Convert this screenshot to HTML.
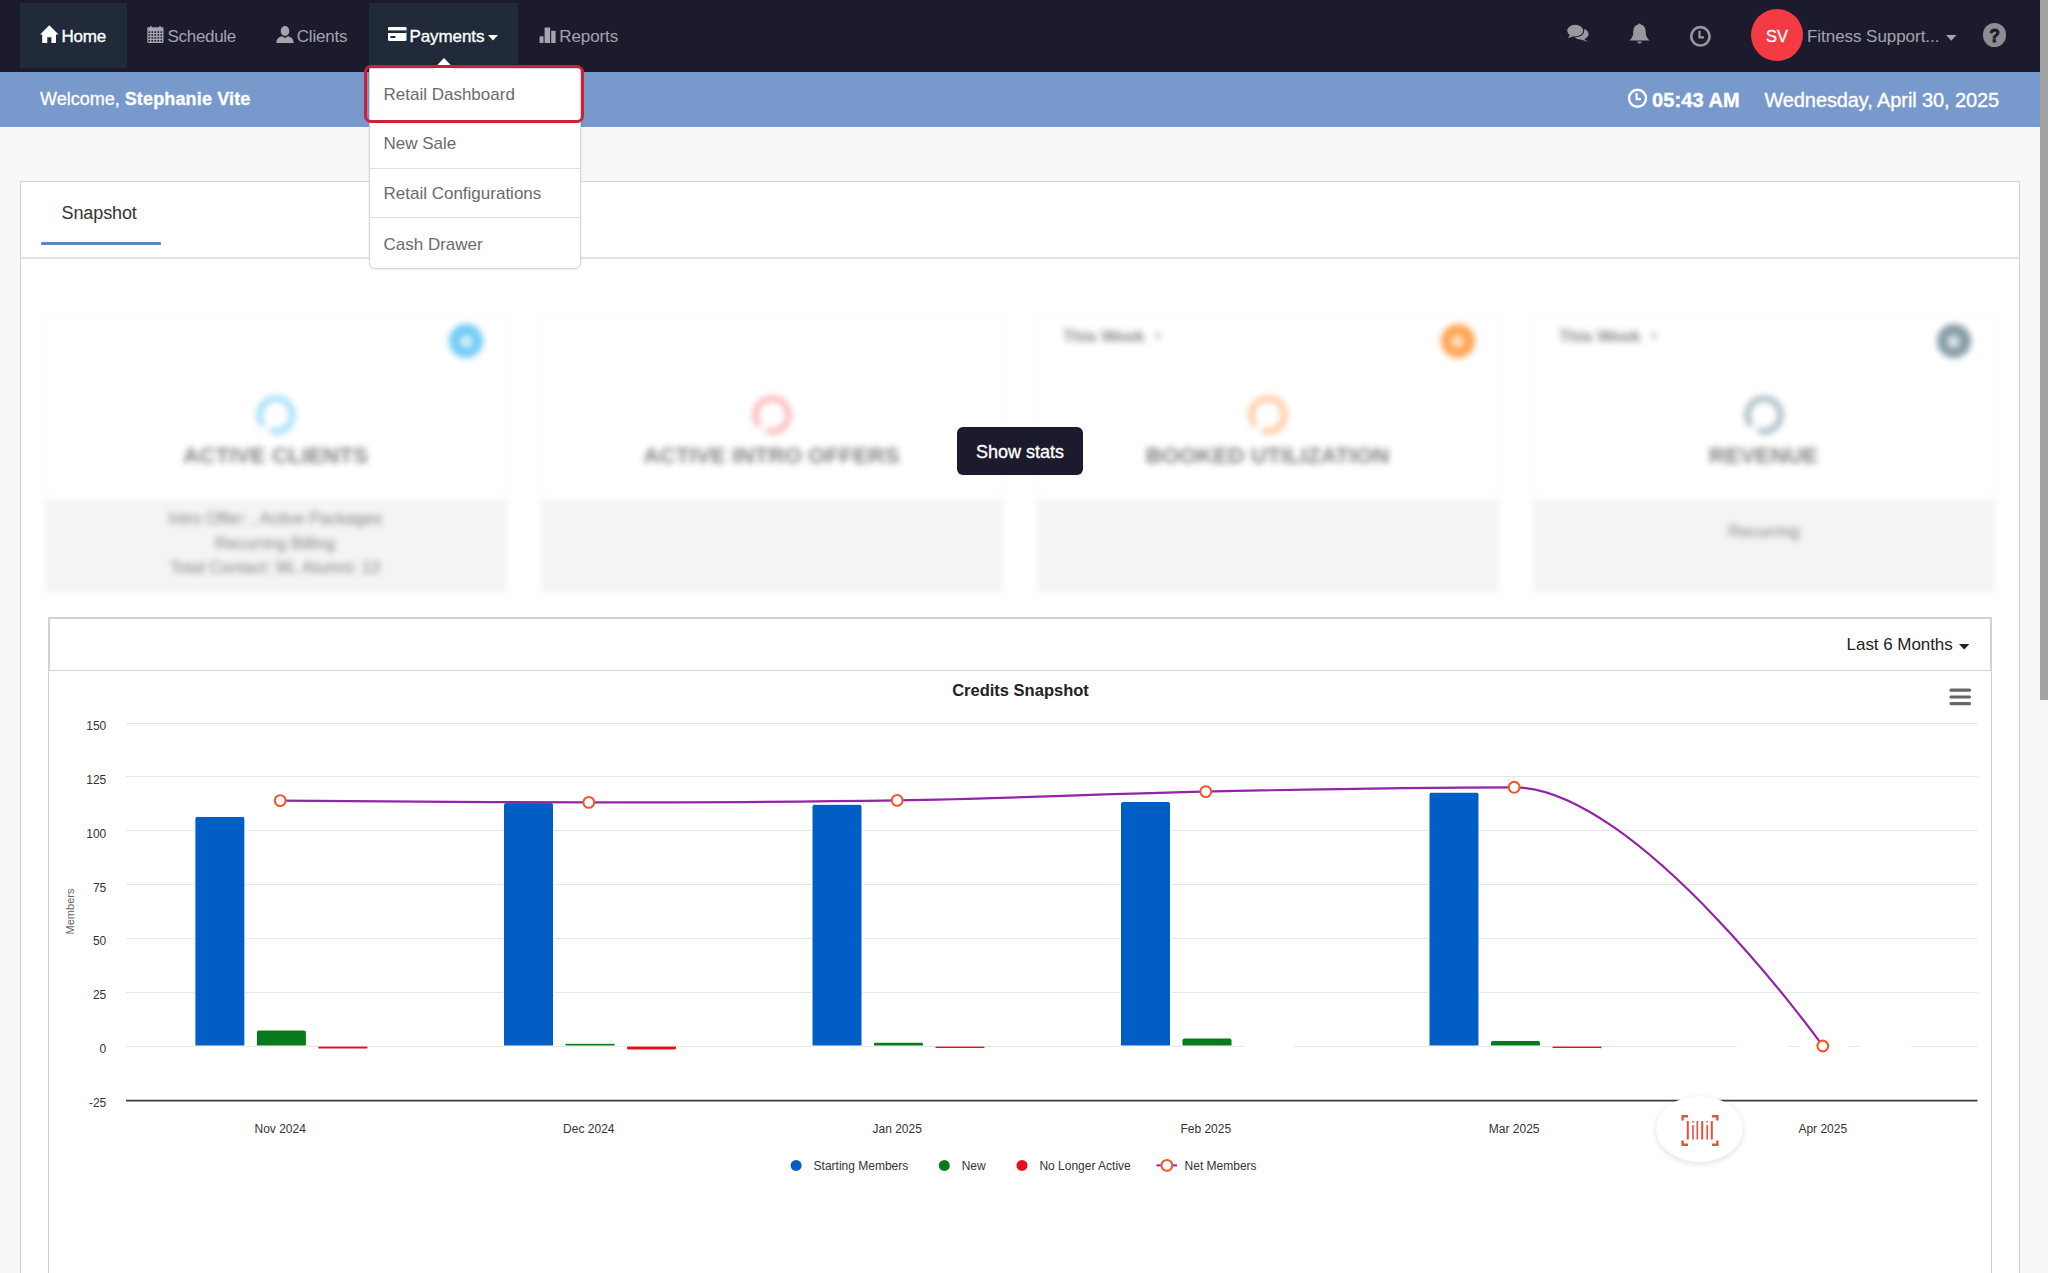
<!DOCTYPE html>
<html lang="en"><head><meta charset="utf-8"><title>Dashboard</title>
<style>
*{box-sizing:border-box;margin:0;padding:0}
html,body{width:2048px;height:1273px;overflow:hidden;background:#f7f7f7;font-family:"Liberation Sans", Arial, sans-serif;position:relative}
.a{position:absolute}
.t{white-space:nowrap}
#nav{left:0;top:0;width:2040px;height:72px;background:#1b1b2d}
.tab{top:3px;height:65px;background:#202a38}
#welcome{left:0;top:72px;width:2040px;height:55px;background:#7799cc}
#scroll{left:2040px;top:0;width:8px;height:700px;background:#a3a3a3}
#main{left:20px;top:181px;width:2000px;height:1200px;background:#fff;border:1px solid #d2d2d2}
#tabsep{left:21px;top:257px;width:1998px;height:2px;background:#e3e3e3}
#dd{left:369px;top:68px;width:212px;height:201px;background:#fff;border:1px solid #d6d6d6;border-radius:0 0 6px 6px;box-shadow:0 1px 3px rgba(0,0,0,.08)}
.dsep{left:370px;width:210px;height:1px;background:#dedede}
#cards{left:0;top:0;width:2048px;height:640px;filter:blur(3px)}
.card{width:460px;height:277px;top:314.5px;background:#fff;box-shadow:0 0 4px rgba(0,0,0,.06)}
.cardb{width:460px;height:92.5px;top:499px;background:#f4f4f4}
#chartbox{left:48px;top:617px;width:1944px;height:700px;background:#fff;border:1px solid #cfcfcf}
#charthead{left:48px;top:617px;width:1944px;height:54px;border:2px solid #d2d2d2;border-bottom:1px solid #d6d6d6}
#barcode{left:1656px;top:1096px;width:87px;height:66px;border-radius:50%;background:#fff;box-shadow:0 2px 6px rgba(0,0,0,.12)}
</style></head><body>
<div id="nav" class="a"></div>
<div class="a tab" style="left:20px;width:107px"></div>
<div class="a tab" style="left:369px;width:149px"></div>
<svg class="a" style="left:40px;top:25px" width="19" height="18" viewBox="0 0 19 18"><path d="M9.3 0.2 L18.6 9.6 L16 9.6 L16 17.9 L11.4 17.9 L11.4 12.3 L7.3 12.3 L7.3 17.9 L2.2 17.9 L2.2 9.6 L0 9.6 Z" fill="#fff"/></svg>
<div class="a t" style="left:61.5px;top:27.5px;font-size:17px;line-height:17px;color:#fff;font-weight:normal;letter-spacing:-0.25px;-webkit-text-stroke:0.35px #fff;">Home</div>
<svg class="a" style="left:146.5px;top:26px" width="17" height="17" viewBox="0 0 17 17"><rect x="3" y="0" width="1.6" height="3" fill="#a3a4ad"/><rect x="12.2" y="0" width="1.6" height="3" fill="#a3a4ad"/><rect x="0.3" y="1.3" width="16.2" height="15.6" rx="0.8" fill="#a3a4ad"/><rect x="1.5" y="5.3" width="1.6" height="1.6" fill="#1b1b2d"/><rect x="4.5" y="5.3" width="1.6" height="1.6" fill="#1b1b2d"/><rect x="7.5" y="5.3" width="1.6" height="1.6" fill="#1b1b2d"/><rect x="10.5" y="5.3" width="1.6" height="1.6" fill="#1b1b2d"/><rect x="13.5" y="5.3" width="1.6" height="1.6" fill="#1b1b2d"/><rect x="1.5" y="8.2" width="1.6" height="1.6" fill="#1b1b2d"/><rect x="4.5" y="8.2" width="1.6" height="1.6" fill="#1b1b2d"/><rect x="7.5" y="8.2" width="1.6" height="1.6" fill="#1b1b2d"/><rect x="10.5" y="8.2" width="1.6" height="1.6" fill="#1b1b2d"/><rect x="13.5" y="8.2" width="1.6" height="1.6" fill="#1b1b2d"/><rect x="1.5" y="11.1" width="1.6" height="1.6" fill="#1b1b2d"/><rect x="4.5" y="11.1" width="1.6" height="1.6" fill="#1b1b2d"/><rect x="7.5" y="11.1" width="1.6" height="1.6" fill="#1b1b2d"/><rect x="10.5" y="11.1" width="1.6" height="1.6" fill="#1b1b2d"/><rect x="13.5" y="11.1" width="1.6" height="1.6" fill="#1b1b2d"/><rect x="1.5" y="14.0" width="1.6" height="1.6" fill="#1b1b2d"/><rect x="4.5" y="14.0" width="1.6" height="1.6" fill="#1b1b2d"/><rect x="7.5" y="14.0" width="1.6" height="1.6" fill="#1b1b2d"/><rect x="10.5" y="14.0" width="1.6" height="1.6" fill="#1b1b2d"/><rect x="13.5" y="14.0" width="1.6" height="1.6" fill="#1b1b2d"/></svg>
<div class="a t" style="left:167.5px;top:27.5px;font-size:17px;line-height:17px;color:#a3a4ad;font-weight:normal;letter-spacing:-0.3px;">Schedule</div>
<svg class="a" style="left:276px;top:26px" width="18" height="17" viewBox="0 0 18 17"><ellipse cx="9" cy="5" rx="4.3" ry="5" fill="#a3a4ad"/><path d="M0.3 17 C0.6 12.5 3 10.8 6 10.2 L9 12 L12 10.2 C15 10.8 17.4 12.5 17.7 17 Z" fill="#a3a4ad"/></svg>
<div class="a t" style="left:296.8px;top:27.5px;font-size:17px;line-height:17px;color:#a3a4ad;font-weight:normal;letter-spacing:-0.2px;">Clients</div>
<svg class="a" style="left:387.5px;top:26.5px" width="19" height="14" viewBox="0 0 19 14"><rect x="0" y="0" width="18.5" height="14" rx="1.2" fill="#fff"/><rect x="0" y="3.4" width="18.5" height="2.6" fill="#202a38"/><rect x="2.4" y="9" width="5" height="2" fill="#202a38"/></svg>
<div class="a t" style="left:409.5px;top:27.5px;font-size:17px;line-height:17px;color:#fff;font-weight:normal;letter-spacing:-0.1px;-webkit-text-stroke:0.35px #fff;">Payments</div>
<svg class="a" style="left:488px;top:35px" width="10" height="6" viewBox="0 0 10 6"><path d="M0 0 H10 L5 5.6 Z" fill="#fff"/></svg>
<svg class="a" style="left:539px;top:27px" width="17" height="16" viewBox="0 0 17 16"><rect x="0.6" y="9.3" width="3.9" height="6.7" fill="#a3a4ad"/><rect x="5.6" y="0.5" width="5.5" height="15.5" fill="#a3a4ad"/><rect x="12.2" y="3.8" width="4.4" height="12.2" fill="#a3a4ad"/></svg>
<div class="a t" style="left:559.3px;top:27.5px;font-size:17px;line-height:17px;color:#a3a4ad;font-weight:normal;letter-spacing:-0.1px;">Reports</div>
<svg class="a" style="left:1566px;top:24px" width="24" height="19" viewBox="0 0 24 19"><ellipse cx="15" cy="10" rx="7.6" ry="5.6" fill="#9798a1"/><path d="M17 14 L22 18 L14 15 Z" fill="#9798a1"/><ellipse cx="9.6" cy="7" rx="8.6" ry="6.2" fill="#1b1b2d"/><ellipse cx="9.2" cy="6.6" rx="8" ry="5.8" fill="#9798a1"/><path d="M4 10.5 L2 14.3 L8 12 Z" fill="#9798a1"/></svg>
<svg class="a" style="left:1628.5px;top:23px" width="21" height="22" viewBox="0 0 21 22"><circle cx="10.5" cy="1.8" r="1.4" fill="#9798a1"/><path d="M10.5 1.5 C6 1.5 4.3 5 4.3 9 C4.3 13 3 15 0.5 17.5 L20.5 17.5 C18 15 16.7 13 16.7 9 C16.7 5 15 1.5 10.5 1.5 Z" fill="#9798a1"/><path d="M8 18.5 A2.6 2.6 0 0 0 13 18.5 Z" fill="#9798a1"/></svg>
<svg class="a" style="left:1689px;top:24.5px" width="23" height="23" viewBox="0 0 23 23"><circle cx="11.4" cy="11.3" r="9.2" fill="none" stroke="#9798a1" stroke-width="2.6"/><path d="M10.5 5.8 V12.4 H15" fill="none" stroke="#9798a1" stroke-width="2.2"/></svg>
<div class="a" style="left:1751px;top:9px;width:52px;height:52px;border-radius:50%;background:#f23b43"></div>
<div class="a t" style="left:1751.0px;width:52px;text-align:center;top:27.6px;font-size:16.5px;line-height:16.5px;color:#fff;font-weight:normal;-webkit-text-stroke:0.3px #fff;">SV</div>
<div class="a t" style="left:1807px;top:27.5px;font-size:17px;line-height:17px;color:#a3a4ad;font-weight:normal;letter-spacing:-0.05px;">Fitness Support...</div>
<svg class="a" style="left:1946px;top:34.5px" width="11" height="6" viewBox="0 0 11 6"><path d="M0 0 H10.5 L5.25 5.8 Z" fill="#a3a4ad"/></svg>
<div class="a" style="left:1983px;top:23.4px;width:23.4px;height:23.4px;border-radius:50%;background:#8b8c94"></div>
<div class="a t" style="left:1982.7px;width:24px;text-align:center;top:27.7px;font-size:17.5px;line-height:17.5px;color:#1b1b2d;font-weight:bold;-webkit-text-stroke:0.8px #1b1b2d;">?</div>
<div id="welcome" class="a"></div>
<div class="a t" style="left:40px;top:90.3px;font-size:18px;line-height:18px;color:#fff;-webkit-text-stroke:0.3px #fff">Welcome, <b style="letter-spacing:0.15px">Stephanie Vite</b></div>
<svg class="a" style="left:1627px;top:88px" width="21" height="21" viewBox="0 0 21 21"><circle cx="10.5" cy="10.3" r="8.5" fill="none" stroke="#fff" stroke-width="2.4"/><path d="M9.6 5 V11.2 H14" fill="none" stroke="#fff" stroke-width="2.2"/></svg>
<div class="a t" style="left:1652px;top:90.1px;font-size:20px;line-height:20px;color:#fff;font-weight:bold;letter-spacing:0.1px;-webkit-text-stroke:0.4px #fff;">05:43 AM</div>
<div class="a t" style="left:1764.4px;top:90.1px;font-size:20px;line-height:20px;color:#fff;font-weight:normal;letter-spacing:-0.1px;-webkit-text-stroke:0.35px #fff;">Wednesday, April 30, 2025</div>
<div id="main" class="a"></div>
<div id="tabsep" class="a"></div>
<div class="a t" style="left:61.5px;top:204.4px;font-size:18px;line-height:18px;color:#333;font-weight:normal;letter-spacing:-0.1px;">Snapshot</div>
<div class="a" style="left:41px;top:241.5px;width:120px;height:3px;background:#5a86c6;border-radius:1px"></div>
<div id="cards" class="a"><div class="a card" style="left:46px"></div><div class="a cardb" style="left:46px"></div><svg class="a" style="left:253.5px;top:393px" width="44" height="44" viewBox="0 0 44 44"><circle cx="22" cy="22" r="16.5" fill="none" stroke="#a3def8" stroke-width="6" stroke-dasharray="94.7 9" transform="rotate(140 22 22)"/></svg><div class="a t" style="left:55.5px;width:440px;text-align:center;top:445.0px;font-size:22.5px;line-height:22.5px;color:#808080;font-weight:bold;letter-spacing:0px;">ACTIVE CLIENTS</div><div class="a card" style="left:542px"></div><div class="a cardb" style="left:542px"></div><svg class="a" style="left:749.5px;top:393px" width="44" height="44" viewBox="0 0 44 44"><circle cx="22" cy="22" r="16.5" fill="none" stroke="#ffb6bb" stroke-width="6" stroke-dasharray="94.7 9" transform="rotate(140 22 22)"/></svg><div class="a t" style="left:551.5px;width:440px;text-align:center;top:445.0px;font-size:22.5px;line-height:22.5px;color:#808080;font-weight:bold;letter-spacing:0px;">ACTIVE INTRO OFFERS</div><div class="a card" style="left:1038px"></div><div class="a cardb" style="left:1038px"></div><svg class="a" style="left:1245.5px;top:393px" width="44" height="44" viewBox="0 0 44 44"><circle cx="22" cy="22" r="16.5" fill="none" stroke="#ffc89e" stroke-width="6" stroke-dasharray="94.7 9" transform="rotate(140 22 22)"/></svg><div class="a t" style="left:1047.5px;width:440px;text-align:center;top:445.0px;font-size:22.5px;line-height:22.5px;color:#808080;font-weight:bold;letter-spacing:0px;">BOOKED UTILIZATION</div><div class="a card" style="left:1534px"></div><div class="a cardb" style="left:1534px"></div><svg class="a" style="left:1741.5px;top:393px" width="44" height="44" viewBox="0 0 44 44"><circle cx="22" cy="22" r="16.5" fill="none" stroke="#abbcc4" stroke-width="6" stroke-dasharray="94.7 9" transform="rotate(140 22 22)"/></svg><div class="a t" style="left:1543.5px;width:440px;text-align:center;top:445.0px;font-size:22.5px;line-height:22.5px;color:#808080;font-weight:bold;letter-spacing:0px;">REVENUE</div><div class="a" style="left:449px;top:324px;width:34px;height:34px;border-radius:50%;background:#72cbf4"></div><div class="a" style="left:459.5px;top:334.5px;width:13px;height:13px;border-radius:50%;background:#d2f1fd"></div><div class="a" style="left:1440.5px;top:324px;width:34px;height:34px;border-radius:50%;background:#ffa552"></div><div class="a" style="left:1451.0px;top:334.5px;width:13px;height:13px;border-radius:50%;background:#ffe0c0"></div><div class="a" style="left:1936.5px;top:324px;width:34px;height:34px;border-radius:50%;background:#869ca7"></div><div class="a" style="left:1947.0px;top:334.5px;width:13px;height:13px;border-radius:50%;background:#dce5e9"></div><div class="a t" style="left:1063px;top:327.6px;font-size:17px;line-height:17px;color:#888;font-weight:bold;letter-spacing:-0.3px;">This Week</div><div class="a" style="left:1154px;top:334px;width:0;height:0;border-left:4px solid transparent;border-right:4px solid transparent;border-top:5px solid #aaa"></div><div class="a t" style="left:1559px;top:327.6px;font-size:17px;line-height:17px;color:#888;font-weight:bold;letter-spacing:-0.3px;">This Week</div><div class="a" style="left:1650px;top:334px;width:0;height:0;border-left:4px solid transparent;border-right:4px solid transparent;border-top:5px solid #aaa"></div><div class="a t" style="left:65.0px;width:420px;text-align:center;top:510.0px;font-size:16.5px;line-height:16.5px;color:#808080;font-weight:normal;">Intro Offer: , Active Packages</div><div class="a t" style="left:65.0px;width:420px;text-align:center;top:534.5px;font-size:16.5px;line-height:16.5px;color:#808080;font-weight:normal;">Recurring Billing</div><div class="a t" style="left:65.0px;width:420px;text-align:center;top:559.0px;font-size:16.5px;line-height:16.5px;color:#808080;font-weight:normal;">Total Contact: 96, Alumni: 13</div><div class="a t" style="left:1554.0px;width:420px;text-align:center;top:523.0px;font-size:16.5px;line-height:16.5px;color:#808080;font-weight:normal;">Recurring</div></div>
<div class="a" style="left:957px;top:427px;width:126px;height:48px;background:#1b1b2d;border-radius:6px"></div>
<div class="a t" style="left:957.0px;width:126px;text-align:center;top:442.6px;font-size:18px;line-height:18px;color:#fff;font-weight:normal;-webkit-text-stroke:0.35px #fff;">Show stats</div>
<div id="chartbox" class="a"></div>
<div id="charthead" class="a"></div>
<div class="a t" style="left:1846.6px;top:636.2px;font-size:17px;line-height:17px;color:#222;font-weight:normal;letter-spacing:-0.05px;">Last 6 Months</div>
<svg class="a" style="left:1959px;top:643.5px" width="11" height="6" viewBox="0 0 11 6"><path d="M0 0 H10.4 L5.2 5.4 Z" fill="#222"/></svg>
<svg class="a" style="left:0;top:0" width="2048" height="1273" viewBox="0 0 2048 1273">
<line x1="126" y1="723.5" x2="1977.5" y2="723.5" stroke="#e6e6e6" stroke-width="1"/>
<line x1="126" y1="776.5" x2="1977.5" y2="776.5" stroke="#e6e6e6" stroke-width="1"/>
<line x1="126" y1="830.5" x2="1977.5" y2="830.5" stroke="#e6e6e6" stroke-width="1"/>
<line x1="126" y1="884.5" x2="1977.5" y2="884.5" stroke="#e6e6e6" stroke-width="1"/>
<line x1="126" y1="938.5" x2="1977.5" y2="938.5" stroke="#e6e6e6" stroke-width="1"/>
<line x1="126" y1="992.5" x2="1977.5" y2="992.5" stroke="#e6e6e6" stroke-width="1"/>
<line x1="126" y1="1046.5" x2="1977.5" y2="1046.5" stroke="#e6e6e6" stroke-width="1"/>
<line x1="126" y1="1100.6" x2="1977.5" y2="1100.6" stroke="#3d3d3d" stroke-width="1.7"/>
<g font-family="Liberation Sans, Arial, sans-serif" font-size="12" fill="#333" text-anchor="end">
<text x="106.3" y="729.8">150</text>
<text x="106.3" y="783.7">125</text>
<text x="106.3" y="837.6">100</text>
<text x="106.3" y="891.5">75</text>
<text x="106.3" y="945.4">50</text>
<text x="106.3" y="999.3">25</text>
<text x="106.3" y="1053.2">0</text>
<text x="106.3" y="1107.1">-25</text>
</g>
<text transform="translate(74 911.5) rotate(-90)" text-anchor="middle" font-family="Liberation Sans, Arial, sans-serif" font-size="11" fill="#666">Members</text>
<g font-family="Liberation Sans, Arial, sans-serif" font-size="12" fill="#333" text-anchor="middle">
<text x="280.2" y="1132.5">Nov 2024</text>
<text x="588.8" y="1132.5">Dec 2024</text>
<text x="897.2" y="1132.5">Jan 2025</text>
<text x="1205.8" y="1132.5">Feb 2025</text>
<text x="1514.2" y="1132.5">Mar 2025</text>
<text x="1822.8" y="1132.5">Apr 2025</text>
</g>
<path d="M194.9 1046.0 V818.9 Q194.9 816.4 197.4 816.4 H242.4 Q244.9 816.4 244.9 818.9 V1046.0 Z" fill="#005ec4" stroke="#fff" stroke-width="1"/>
<path d="M256.4 1046.0 V1032.5 Q256.4 1030.0 258.9 1030.0 H303.9 Q306.4 1030.0 306.4 1032.5 V1046.0 Z" fill="#087a1e" stroke="#fff" stroke-width="1"/>
<path d="M317.9 1046.0 V1047.5 Q317.9 1049.0 319.5 1049.0 H366.4 Q367.9 1049.0 367.9 1047.5 V1046.0 Z" fill="#e8101e" stroke="#fff" stroke-width="1"/>
<path d="M503.5 1046.0 V805.1 Q503.5 802.6 506.0 802.6 H551.0 Q553.5 802.6 553.5 805.1 V1046.0 Z" fill="#005ec4" stroke="#fff" stroke-width="1"/>
<path d="M565.0 1046.0 V1044.7 Q565.0 1043.3 566.3 1043.3 H613.6 Q615.0 1043.3 615.0 1044.7 V1046.0 Z" fill="#087a1e" stroke="#fff" stroke-width="1"/>
<path d="M626.5 1046.0 V1048.0 Q626.5 1050.0 628.4 1050.0 H674.5 Q676.5 1050.0 676.5 1048.0 V1046.0 Z" fill="#e8101e" stroke="#fff" stroke-width="1"/>
<path d="M812.0 1046.0 V806.8 Q812.0 804.3 814.5 804.3 H859.5 Q862.0 804.3 862.0 806.8 V1046.0 Z" fill="#005ec4" stroke="#fff" stroke-width="1"/>
<path d="M873.5 1046.0 V1044.1 Q873.5 1042.2 875.3 1042.2 H921.6 Q923.5 1042.2 923.5 1044.1 V1046.0 Z" fill="#087a1e" stroke="#fff" stroke-width="1"/>
<path d="M935.0 1046.0 V1047.3 Q935.0 1048.5 936.2 1048.5 H983.7 Q985.0 1048.5 985.0 1047.3 V1046.0 Z" fill="#e8101e" stroke="#fff" stroke-width="1"/>
<path d="M1120.5 1046.0 V804.0 Q1120.5 801.5 1123.0 801.5 H1168.0 Q1170.5 801.5 1170.5 804.0 V1046.0 Z" fill="#005ec4" stroke="#fff" stroke-width="1"/>
<path d="M1182.0 1046.0 V1040.5 Q1182.0 1038.0 1184.5 1038.0 H1229.5 Q1232.0 1038.0 1232.0 1040.5 V1046.0 Z" fill="#087a1e" stroke="#fff" stroke-width="1"/>
<rect x="1243.0" y="1045.0" width="51.0" height="2" fill="#fff"/>
<path d="M1429.0 1046.0 V794.7 Q1429.0 792.2 1431.5 792.2 H1476.5 Q1479.0 792.2 1479.0 794.7 V1046.0 Z" fill="#005ec4" stroke="#fff" stroke-width="1"/>
<path d="M1490.5 1046.0 V1042.9 Q1490.5 1040.4 1493.0 1040.4 H1538.0 Q1540.5 1040.4 1540.5 1042.9 V1046.0 Z" fill="#087a1e" stroke="#fff" stroke-width="1"/>
<path d="M1552.0 1046.0 V1047.3 Q1552.0 1048.5 1553.2 1048.5 H1600.7 Q1602.0 1048.5 1602.0 1047.3 V1046.0 Z" fill="#e8101e" stroke="#fff" stroke-width="1"/>
<rect x="1737.0" y="1045.0" width="51.0" height="2" fill="#fff"/>
<rect x="1798.5" y="1045.0" width="51.0" height="2" fill="#fff"/>
<rect x="1860.0" y="1045.0" width="51.0" height="2" fill="#fff"/>
<path d="M 280.2 800.6 C 280.2 800.6 465.4 802.4 588.8 802.4 C 712.1 802.4 773.9 802.4 897.2 800.4 C 1020.6 798.5 1082.3 794.2 1205.8 791.6 C 1329.2 789.0 1390.8 787.3 1514.2 787.3 C 1637.7 787.3 1822.8 1046.0 1822.8 1046.0" fill="none" stroke="#9324a8" stroke-width="2.2"/>
<circle cx="280.2" cy="800.6" r="5.4" fill="#fff" stroke="#ee5a2f" stroke-width="2.1"/>
<circle cx="588.8" cy="802.4" r="5.4" fill="#fff" stroke="#ee5a2f" stroke-width="2.1"/>
<circle cx="897.2" cy="800.4" r="5.4" fill="#fff" stroke="#ee5a2f" stroke-width="2.1"/>
<circle cx="1205.8" cy="791.6" r="5.4" fill="#fff" stroke="#ee5a2f" stroke-width="2.1"/>
<circle cx="1514.2" cy="787.3" r="5.4" fill="#fff" stroke="#ee5a2f" stroke-width="2.1"/>
<circle cx="1822.8" cy="1046.0" r="5.4" fill="#fff" stroke="#ee5a2f" stroke-width="2.1"/>
<text x="1020.5" y="696.2" text-anchor="middle" font-family="Liberation Sans, Arial, sans-serif" font-size="16.5" font-weight="bold" fill="#222">Credits Snapshot</text>
<line x1="1951" y1="690.2" x2="1969.5" y2="690.2" stroke="#666" stroke-width="3.2" stroke-linecap="round"/>
<line x1="1951" y1="697" x2="1969.5" y2="697" stroke="#666" stroke-width="3.2" stroke-linecap="round"/>
<line x1="1951" y1="703.7" x2="1969.5" y2="703.7" stroke="#666" stroke-width="3.2" stroke-linecap="round"/>
<circle cx="796.1" cy="1165.4" r="5.5" fill="#005ec4"/>
<circle cx="944.3" cy="1165.4" r="5.5" fill="#087a1e"/>
<circle cx="1022" cy="1165.4" r="5.5" fill="#e8101e"/>
<line x1="1156.4" y1="1165.4" x2="1177" y2="1165.4" stroke="#9324a8" stroke-width="2"/>
<circle cx="1166.9" cy="1165.4" r="5.4" fill="#fff" stroke="#ee5a2f" stroke-width="2.1"/>
<g font-family="Liberation Sans, Arial, sans-serif" font-size="12" fill="#333">
<text x="813.6" y="1169.7">Starting Members</text>
<text x="961.7" y="1169.7">New</text>
<text x="1039.4" y="1169.7">No Longer Active</text>
<text x="1184.6" y="1169.7">Net Members</text>
</g>
</svg>
<div id="barcode" class="a"></div>
<svg class="a" style="left:1681px;top:1114.5px" width="38" height="31" viewBox="0 0 38 31" fill="none" stroke="#e8503a"><path d="M7 1.2 H1.6 V5.5 M31 1.2 H36.4 V5.5 M7 29.8 H1.6 V25.5 M31 29.8 H36.4 V25.5" stroke-width="2.4"/><g stroke-width="2"><line x1="6.8" y1="6" x2="6.8" y2="24.5"/><line x1="21.2" y1="6" x2="21.2" y2="24.5"/><line x1="30.8" y1="6" x2="30.8" y2="24.5"/></g><g stroke-width="1.6"><line x1="12" y1="10" x2="12" y2="24.5"/><line x1="16.3" y1="6" x2="16.3" y2="24.5"/><line x1="26.2" y1="10" x2="26.2" y2="24.5"/><line x1="12" y1="6" x2="12" y2="7.6"/><line x1="26.2" y1="6" x2="26.2" y2="7.6"/></g></svg>
<div id="dd" class="a"></div>
<svg class="a" style="left:433px;top:57px" width="22" height="13" viewBox="0 0 22 13"><path d="M0 12.5 L11 1 L22 12.5 Z" fill="#fff"/></svg>
<div class="a dsep" style="top:120px"></div>
<div class="a dsep" style="top:168px"></div>
<div class="a dsep" style="top:217px"></div>
<div class="a t" style="left:383.5px;top:86.3px;font-size:17px;line-height:17px;color:#6b6b6b;font-weight:normal;letter-spacing:0px;">Retail Dashboard</div>
<div class="a t" style="left:383.5px;top:135.1px;font-size:17px;line-height:17px;color:#6b6b6b;font-weight:normal;letter-spacing:0px;">New Sale</div>
<div class="a t" style="left:383.5px;top:184.6px;font-size:17px;line-height:17px;color:#6b6b6b;font-weight:normal;letter-spacing:0px;">Retail Configurations</div>
<div class="a t" style="left:383.5px;top:236.3px;font-size:17px;line-height:17px;color:#6b6b6b;font-weight:normal;letter-spacing:0px;">Cash Drawer</div>
<div class="a" style="left:364px;top:65px;width:220px;height:58px;border:3px solid #cf1f36;border-radius:7px"></div>
<div id="scroll" class="a"></div>
</body></html>
